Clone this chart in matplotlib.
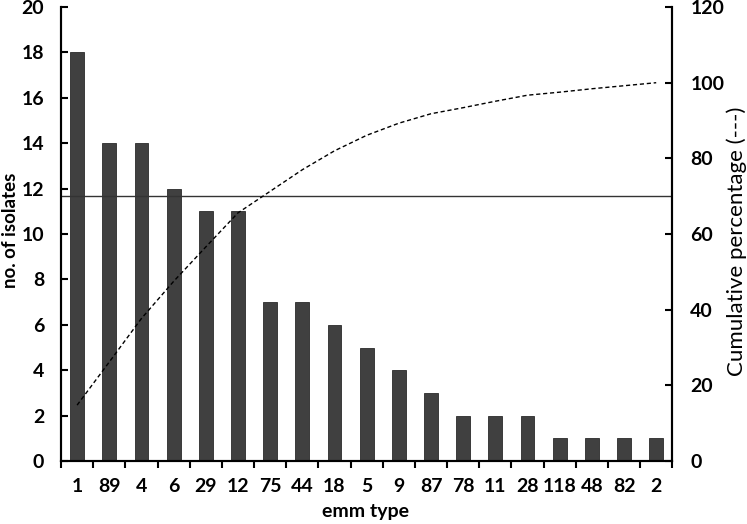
import numpy as np
import matplotlib
matplotlib.use("Agg")
import matplotlib.pyplot as plt

plt.rcParams['font.family'] = ['Lato', 'DejaVu Sans']

# --- data ---
emm_types = ["1", "89", "4", "6", "29", "12", "75", "44", "18", "5",
             "9", "87", "78", "11", "28", "118", "48", "82", "2"]
isolates = [18, 14, 14, 12, 11, 11, 7, 7, 6, 5, 4, 3, 2, 2, 2, 1, 1, 1, 1]
cum_pct = [14.8, 26.2, 37.7, 47.5, 56.6, 65.6, 71.3, 77.0, 82.0, 86.1,
           89.3, 91.8, 93.4, 95.1, 96.7, 97.5, 98.4, 99.2, 100.0]
cutoff_pct = 70

x = np.arange(len(emm_types))

fig = plt.figure(figsize=(7.47, 5.24), dpi=100)
ax = fig.add_axes([0.0817, 0.120, 0.8183, 0.8666])

ax.bar(x, isolates, width=0.43, color="#404040", edgecolor="#2a2a2a", linewidth=0.6, zorder=2)
ax.set_xlim(-0.5, len(x) - 0.5)
ax.set_ylim(0, 20)
ax.set_yticks(range(0, 21, 2))
ax.set_xticks(x)
ax.set_xticklabels(emm_types, fontsize=14, fontweight="bold")
ax.set_xticks(np.arange(-0.5, len(x), 1.0), minor=True)
ax.tick_params(axis="x", which="major", length=0, pad=12)
ax.tick_params(axis="x", which="minor", length=5, width=1.5, direction="out")
ax.tick_params(axis="y", length=5, width=1.5, direction="in", pad=12, labelsize=14)
for lab in ax.get_yticklabels():
    lab.set_fontweight("bold")
ax.set_ylabel("no. of isolates", fontsize=13.5, fontweight="bold", va="center")
ax.yaxis.set_label_coords(-0.083, 0.509)
ax.set_xlabel("emm type", fontsize=14, fontweight="bold", va="top")
ax.xaxis.set_label_coords(0.4976, -0.093)

ax2 = ax.twinx()
ax2.plot(x, cum_pct, color="black", linestyle=(0, (3, 2)), linewidth=1.0, zorder=3)
ax2.axhline(cutoff_pct, color="#333333", linewidth=1.0)
ax2.set_ylim(0, 120)
ax2.set_yticks(range(0, 121, 20))
ax2.tick_params(axis="y", length=5, width=1.5, direction="in", pad=13, labelsize=14)
for lab in ax2.get_yticklabels():
    lab.set_fontweight("bold")
ax2.set_ylabel("Cumulative percentage (---)", fontsize=16, va="center")
ax2.yaxis.set_label_coords(1.105, 0.485)

for a in (ax, ax2):
    a.spines["top"].set_visible(False)
    for s in ("left", "right", "bottom"):
        a.spines[s].set_linewidth(1.5)

fig.savefig("out.png", dpi=100)
